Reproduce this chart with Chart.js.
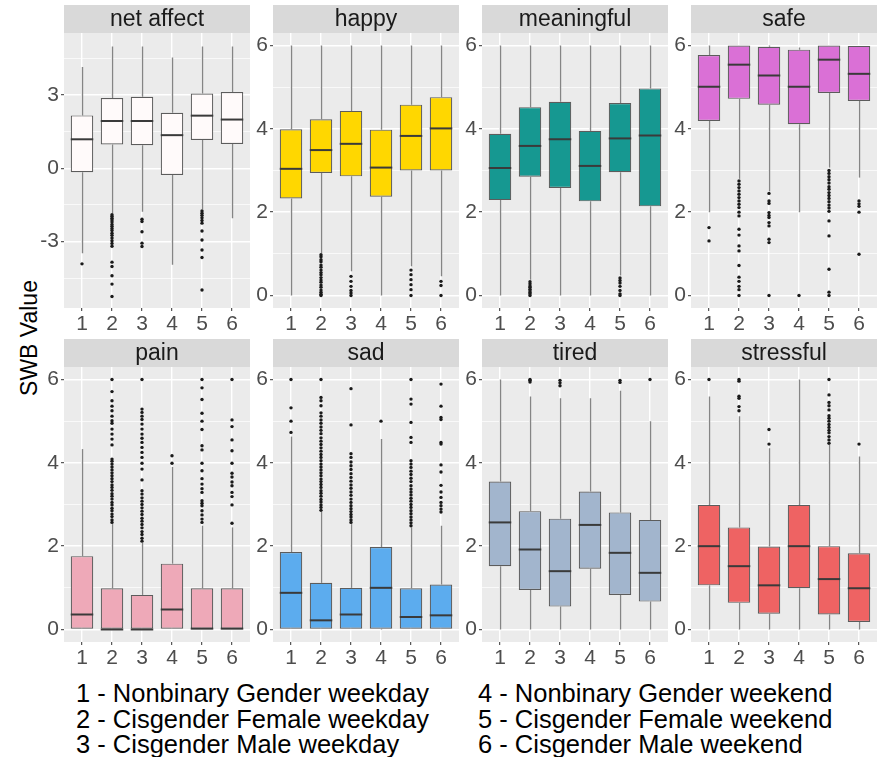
<!DOCTYPE html>
<html>
<head>
<meta charset="utf-8">
<script src="https://cdn.jsdelivr.net/npm/chart.js@4.4.0/dist/chart.umd.min.js"></script>
<style>
  html, body { margin: 0; padding: 0; background: #ffffff; }
  #wrap { position: relative; width: 881px; height: 757px; overflow: hidden; font-family: "Liberation Sans", Arial, sans-serif; }
  #wrap canvas { position: absolute; }
  #ytitle { position: absolute; left: 29px; top: 338px; transform: translate(-50%, -50%) rotate(-90deg);
            font-size: 23px; color: #000; white-space: nowrap; }
  .legend { position: absolute; top: 681px; font-size: 25.5px; line-height: 25.5px; color: #000; white-space: nowrap; }
</style>
</head>
<body>
<div id="wrap">
  <div id="ytitle">SWB Value</div>
  <div class="legend" id="legL"></div>
  <div class="legend" id="legR"></div>
</div>
<script>
// Groups on the x axis
const groups = [1, 2, 3, 4, 5, 6];
const groupLabels = [
  '1 - Nonbinary Gender weekday', '2 - Cisgender Female weekday', '3 - Cisgender Male weekday',
  '4 - Nonbinary Gender weekend', '5 - Cisgender Female weekend', '6 - Cisgender Male weekend'
];

// Five-number summaries per group: [lower whisker, Q1, median, Q3, upper whisker]
const netAffectBoxes = [
  [-3.48, -0.16, 1.19, 2.17, 4.16],
  [-1.84, 0.98, 1.94, 2.88, 5.0],
  [-1.78, 0.95, 1.94, 2.93, 5.0],
  [-3.96, -0.27, 1.36, 2.28, 4.55],
  [-1.68, 1.16, 2.16, 3.07, 5.0],
  [-2.05, 1.0, 2.0, 3.13, 5.0]
];
const happyBoxes = [
  [0, 2.33, 3.04, 3.99, 6],
  [1.02, 2.94, 3.49, 4.23, 6],
  [0.58, 2.86, 3.64, 4.43, 6],
  [0, 2.37, 3.07, 3.98, 6],
  [0.7, 3.0, 3.83, 4.58, 6],
  [0.46, 3.0, 4.01, 4.76, 6]
];
const meaningfulBoxes = [
  [0, 2.29, 3.06, 3.88, 6],
  [0.38, 2.85, 3.59, 4.52, 6],
  [0, 2.58, 3.75, 4.65, 6],
  [0, 2.26, 3.11, 3.95, 6],
  [0.48, 2.96, 3.77, 4.62, 6],
  [0, 2.14, 3.84, 4.97, 6]
];
const safeBoxes = [
  [2.0, 4.19, 5.01, 5.77, 6],
  [2.8, 4.72, 5.54, 6.0, 6.0],
  [2.5, 4.58, 5.28, 5.97, 6],
  [2.0, 4.11, 5.01, 5.9, 5.95],
  [3.07, 4.86, 5.66, 6.0, 6.0],
  [2.83, 4.67, 5.32, 5.99, 5.99]
];
const painBoxes = [
  [0, 0, 0.36, 1.76, 4.33],
  [0, 0, 0, 0.99, 2.53],
  [0, 0, 0, 0.83, 2.08],
  [0, 0, 0.48, 1.58, 3.9],
  [0, 0, 0.02, 0.99, 2.49],
  [0, 0, 0.02, 0.99, 2.45]
];
const sadBoxes = [
  [0, 0, 0.88, 1.86, 4.63],
  [0, 0, 0.22, 1.12, 2.82],
  [0, 0, 0.36, 1.0, 2.53],
  [0, 0.02, 1.0, 1.98, 4.57],
  [0, 0, 0.3, 0.99, 2.45],
  [0, 0, 0.34, 1.08, 2.49]
];
const tiredBoxes = [
  [0, 1.52, 2.57, 3.55, 6.0],
  [0, 0.95, 1.92, 2.84, 5.59],
  [0, 0.55, 1.4, 2.66, 5.55],
  [0, 1.46, 2.51, 3.31, 5.55],
  [0, 0.83, 1.84, 2.81, 5.73],
  [0, 0.67, 1.36, 2.63, 5.0]
];
const stressfulBoxes = [
  [0, 1.06, 2.0, 2.99, 5.59],
  [0, 0.64, 1.52, 2.45, 5.12],
  [0, 0.38, 1.06, 1.99, 4.35],
  [0, 0.99, 2.0, 2.99, 6.0],
  [0, 0.36, 1.21, 2.0, 4.43],
  [0, 0.18, 0.99, 1.83, 4.15]
];

// Outlying observations per group
const netAffectOutliers = [
  [-3.92],
  [-1.9, -1.97, -2.05, -2.12, -2.2, -2.3, -2.38, -2.47, -2.55, -2.66, -2.75, -2.86, -2.97, -3.08, -3.2, -3.85, -4.03, -4.41, -4.75, -5.26],
  [-2.09, -2.18, -2.6, -3.07, -3.21],
  [],
  [-1.75, -1.84, -1.93, -2.03, -2.14, -2.25, -2.57, -2.94, -3.35, -3.66, -4.99],
  []
];
const happyOutliers = [
  [],
  [0.98, 0.93, 0.86, 0.81, 0.73, 0.68, 0.61, 0.55, 0.5, 0.43, 0.37, 0.32, 0.25, 0.2, 0.13, 0.08, 0.03, 0],
  [0.46, 0.34, 0.22, 0.12, 0.06, 0],
  [],
  [0.61, 0.5, 0.38, 0.26, 0.14, 0],
  [0.34, 0.24, 0]
];
const meaningfulOutliers = [
  [],
  [0.33, 0.28, 0.23, 0.2, 0.15, 0.11, 0.07, 0.04, 0],
  [],
  [],
  [0.42, 0.36, 0.3, 0.22, 0.12, 0.04, 0],
  []
];
const safeOutliers = [
  [1.63, 1.31],
  [2.75, 2.67, 2.59, 2.51, 2.43, 2.35, 2.27, 2.19, 2.11, 2.0, 1.91, 1.59, 1.45, 1.19, 1.07, 0.72, 0.44, 0.34, 0.22, 0.14, 0],
  [2.45, 2.27, 2.21, 1.99, 1.92, 1.87, 1.75, 1.67, 1.35, 1.27, 0],
  [0],
  [3.0, 2.93, 2.85, 2.78, 2.7, 2.61, 2.55, 2.47, 2.4, 2.33, 2.25, 2.17, 2.1, 2.02, 1.79, 1.43, 0.63, 0.08, 0],
  [2.27, 2.2, 2.14, 2.0, 0.99]
];
const painOutliers = [
  [],
  [2.57, 2.63, 2.71, 2.77, 2.85, 2.91, 2.99, 3.05, 3.13, 3.2, 3.26, 3.34, 3.41, 3.47, 3.55, 3.62, 3.69, 3.76, 3.83, 3.9, 3.97, 4.04, 4.09, 4.43, 4.57, 4.69, 4.81, 4.95, 5.01, 5.12, 5.25, 5.36, 5.49, 5.71, 6.0],
  [2.12, 2.19, 2.28, 2.35, 2.44, 2.52, 2.6, 2.67, 2.76, 2.84, 2.92, 3.0, 3.08, 3.16, 3.25, 3.33, 3.59, 3.85, 3.99, 4.13, 4.25, 4.37, 4.49, 4.59, 4.69, 4.81, 4.93, 5.04, 5.12, 5.21, 5.29, 6.0],
  [3.99, 4.17],
  [2.57, 2.65, 2.75, 2.85, 2.97, 3.03, 3.09, 3.29, 3.38, 3.49, 3.62, 3.81, 3.99, 4.31, 4.41, 4.8, 5.0, 5.19, 5.52, 5.8, 6.0],
  [2.55, 2.99, 3.19, 3.29, 3.45, 3.54, 3.66, 3.75, 3.99, 4.29, 4.55, 4.87, 5.03, 6.0]
];
const sadOutliers = [
  [4.73, 5.0, 5.32, 6.0],
  [2.86, 2.93, 2.99, 3.06, 3.12, 3.2, 3.27, 3.33, 3.41, 3.48, 3.55, 3.61, 3.69, 3.76, 3.83, 3.9, 3.97, 4.05, 4.13, 4.2, 4.28, 4.36, 4.44, 4.52, 4.6, 4.7, 4.78, 4.86, 4.95, 5.03, 5.12, 5.2, 5.37, 5.49, 5.57, 6.0],
  [2.57, 2.63, 2.7, 2.76, 2.83, 2.9, 2.97, 3.05, 3.13, 3.22, 3.3, 3.39, 3.47, 3.56, 3.65, 3.74, 3.84, 3.93, 4.02, 4.13, 4.22, 4.91, 5.78],
  [5.0],
  [2.49, 2.56, 2.63, 2.7, 2.78, 2.85, 2.93, 3.0, 3.08, 3.15, 3.23, 3.3, 3.37, 3.45, 3.55, 3.63, 3.72, 3.8, 3.89, 3.97, 4.05, 4.49, 4.61, 4.97, 5.41, 5.53, 6.0],
  [2.82, 2.89, 2.97, 3.05, 3.17, 3.3, 3.46, 3.78, 3.95, 4.45, 4.49, 5.04, 5.09, 5.36, 5.89]
];
const tiredOutliers = [
  [],
  [5.94, 5.98, 6.0],
  [5.85, 5.92, 5.98],
  [],
  [5.93, 5.98],
  [6.0]
];
const stressfulOutliers = [
  [6.0],
  [5.25, 5.35, 5.55, 5.6, 5.96, 6.0],
  [4.45, 4.8],
  [],
  [4.47, 4.55, 4.63, 4.72, 4.78, 4.85, 4.92, 5.0, 5.07, 5.13, 5.27, 5.37, 5.45, 5.63, 6.0],
  [4.45]
];

// Axis ticks
const netAffectMajorTicks = [-3, 0, 3];
const netAffectMinorTicks = [-4.5, -1.5, 1.5, 4.5];
const scoreMajorTicks = [0, 2, 4, 6];
const scoreMinorTicks = [1, 3, 5];

// Facets, left to right, top to bottom
const facets = [
  { title: 'net affect', boxes: netAffectBoxes, outliers: netAffectOutliers, fill: '#FFFAFA', major: netAffectMajorTicks, minor: netAffectMinorTicks, min: -5.73, max: 5.55 },
  { title: 'happy', boxes: happyBoxes, outliers: happyOutliers, fill: '#FFD700', major: scoreMajorTicks, minor: scoreMinorTicks, min: -0.3, max: 6.3 },
  { title: 'meaningful', boxes: meaningfulBoxes, outliers: meaningfulOutliers, fill: '#169891', major: scoreMajorTicks, minor: scoreMinorTicks, min: -0.3, max: 6.3 },
  { title: 'safe', boxes: safeBoxes, outliers: safeOutliers, fill: '#DA70D6', major: scoreMajorTicks, minor: scoreMinorTicks, min: -0.3, max: 6.3 },
  { title: 'pain', boxes: painBoxes, outliers: painOutliers, fill: '#EEA9B8', major: scoreMajorTicks, minor: scoreMinorTicks, min: -0.3, max: 6.3 },
  { title: 'sad', boxes: sadBoxes, outliers: sadOutliers, fill: '#5CACEE', major: scoreMajorTicks, minor: scoreMinorTicks, min: -0.3, max: 6.3 },
  { title: 'tired', boxes: tiredBoxes, outliers: tiredOutliers, fill: '#A2B5CD', major: scoreMajorTicks, minor: scoreMinorTicks, min: -0.3, max: 6.3 },
  { title: 'stressful', boxes: stressfulBoxes, outliers: stressfulOutliers, fill: '#EE6363', major: scoreMajorTicks, minor: scoreMinorTicks, min: -0.3, max: 6.3 }
];

// Grid geometry of the facet layout
const PANEL_W = 190, PANEL_H = 275, STRIP_H = 28, GAP = 19, XAXIS_H = 32;
const FIRST_LEFT = 64;
const ROW_TOP = [5, 339];
const FONT = '"Liberation Sans", Arial, sans-serif';

// Panel background, strip header, whiskers and medians
const facetPlugin = {
  id: 'facet',
  beforeDraw(chart, args, opts) {
    const { ctx, chartArea: a } = chart;
    ctx.save();
    ctx.fillStyle = '#EBEBEB';
    ctx.fillRect(a.left, a.top, a.right - a.left, a.bottom - a.top);
    ctx.fillStyle = '#D9D9D9';
    ctx.fillRect(a.left, a.top - STRIP_H, a.right - a.left, STRIP_H);
    ctx.fillStyle = '#1A1A1A';
    ctx.font = '23px ' + FONT;
    ctx.textAlign = 'center';
    ctx.textBaseline = 'middle';
    ctx.fillText(opts.title, (a.left + a.right) / 2, a.top - STRIP_H / 2 + 1);
    ctx.restore();
  },
  beforeDatasetsDraw(chart, args, opts) {
    const { ctx } = chart;
    const x = chart.scales.x, y = chart.scales.y;
    ctx.save();
    ctx.strokeStyle = '#858585';
    ctx.lineWidth = 1.4;
    opts.boxes.forEach((b, i) => {
      const px = Math.round(x.getPixelForValue(groups[i])) + 0.5;
      ctx.beginPath();
      ctx.moveTo(px, y.getPixelForValue(b[0]));
      ctx.lineTo(px, y.getPixelForValue(b[1]));
      ctx.moveTo(px, y.getPixelForValue(b[3]));
      ctx.lineTo(px, y.getPixelForValue(b[4]));
      ctx.stroke();
    });
    ctx.restore();
  },
  afterDatasetsDraw(chart, args, opts) {
    const { ctx } = chart;
    const y = chart.scales.y;
    const bars = chart.getDatasetMeta(0).data;
    ctx.save();
    ctx.strokeStyle = '#3A3A3A';
    ctx.lineWidth = 2;
    opts.boxes.forEach((b, i) => {
      const bar = bars[i];
      const py = y.getPixelForValue(b[2]);
      ctx.beginPath();
      ctx.moveTo(bar.x - bar.width / 2, py);
      ctx.lineTo(bar.x + bar.width / 2, py);
      ctx.stroke();
    });
    ctx.restore();
  }
};

function buildFacet(f, idx) {
  const col = idx % 4, row = Math.floor(idx / 4);
  const axisW = col === 0 ? FIRST_LEFT : GAP;
  const plotLeft = FIRST_LEFT + col * (PANEL_W + GAP);
  const canvas = document.createElement('canvas');
  canvas.width = axisW + PANEL_W;
  canvas.height = STRIP_H + PANEL_H + XAXIS_H;
  canvas.style.left = (plotLeft - axisW) + 'px';
  canvas.style.top = ROW_TOP[row] + 'px';
  document.getElementById('wrap').appendChild(canvas);

  const yTicks = f.major.concat(f.minor).sort((p, q) => p - q);
  const isMajor = v => f.major.includes(v);

  const boxData = f.boxes.map((b, i) => ({ x: groups[i], y: [b[1], b[3]] }));
  const outlierData = [];
  f.outliers.forEach((list, i) => list.forEach(v => outlierData.push({ x: groups[i], y: v })));

  new Chart(canvas, {
    type: 'bar',
    data: {
      datasets: [
        {
          type: 'bar',
          data: boxData,
          backgroundColor: f.fill,
          borderColor: '#5C5C5C',
          borderWidth: 1.2,
          borderSkipped: false,
          barPercentage: 0.75,
          categoryPercentage: 1
        },
        {
          type: 'scatter',
          data: outlierData,
          pointRadius: 1.7,
          pointBackgroundColor: '#1A1A1A',
          pointBorderWidth: 0,
          showLine: false
        }
      ]
    },
    options: {
      responsive: false,
      animation: false,
      events: [],
      devicePixelRatio: 1,
      layout: { padding: { top: STRIP_H, left: 0, right: 0, bottom: 0 } },
      plugins: {
        legend: { display: false },
        tooltip: { enabled: false },
        facet: { title: f.title, boxes: f.boxes }
      },
      scales: {
        x: {
          type: 'linear',
          min: 0.4,
          max: 6.6,
          offset: false,
          afterBuildTicks: s => { s.ticks = groups.map(v => ({ value: v })); },
          afterFit: s => { s.height = XAXIS_H; },
          grid: { offset: false, color: '#FFFFFF', lineWidth: 1.4, tickColor: '#333333', tickLength: 3, tickWidth: 1 },
          border: { display: false },
          ticks: { color: '#4D4D4D', font: { size: 21, family: FONT }, padding: 1, autoSkip: false, maxRotation: 0,
                   callback: v => String(v) }
        },
        y: {
          type: 'linear',
          min: f.min,
          max: f.max,
          afterBuildTicks: s => { s.ticks = yTicks.map(v => ({ value: v })); },
          afterFit: s => { s.width = axisW; },
          grid: {
            color: '#FFFFFF',
            lineWidth: c => (isMajor(c.tick.value) ? 1.4 : 0.7),
            tickColor: c => (isMajor(c.tick.value) ? '#333333' : 'rgba(0,0,0,0)'),
            tickLength: 3,
            tickWidth: 1
          },
          border: { display: false },
          ticks: { color: '#4D4D4D', font: { size: 21, family: FONT }, padding: 2, autoSkip: false,
                   callback: v => (isMajor(v) ? String(v) : '') }
        }
      }
    },
    plugins: [facetPlugin]
  });
}

facets.forEach(buildFacet);

document.getElementById('legL').style.left = '76px';
document.getElementById('legR').style.left = '478px';
document.getElementById('legL').innerHTML = groupLabels.slice(0, 3).join('<br>');
document.getElementById('legR').innerHTML = groupLabels.slice(3).join('<br>');
</script>
</body>
</html>
